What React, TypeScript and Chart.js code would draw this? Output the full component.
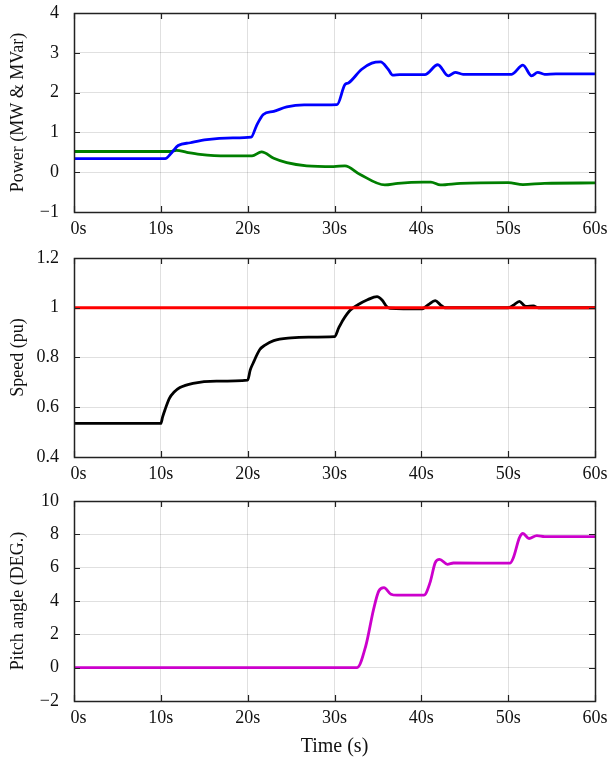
import React, { useEffect, useRef } from "react";
import { Chart, registerables } from "chart.js";

Chart.register(...registerables);

// ---- Data ----
const xTicks = [0, 10, 20, 30, 40, 50, 60];

// Active power (MW) - blue
const pTime = [0, 10.5, 11.25, 12, 13.4, 15.3, 18.3, 20.4, 21.0, 21.8, 23, 24.5, 26.5, 30.3, 31.2, 31.6, 33.1, 34.3, 35.3, 36.2, 36.7, 37.5, 40.4, 41.9, 43.1, 43.9, 44.8, 50.4, 51.7, 52.7, 53.4, 54.2, 55.5, 60];
const pValues = [0.34, 0.34, 0.49, 0.67, 0.74, 0.82, 0.86, 0.88, 1.16, 1.45, 1.53, 1.64, 1.69, 1.7, 2.2, 2.24, 2.58, 2.74, 2.77, 2.58, 2.44, 2.45, 2.45, 2.7, 2.42, 2.51, 2.46, 2.46, 2.69, 2.42, 2.51, 2.46, 2.47, 2.47];

// Reactive power (MVar) - green
const qTime = [0, 11.1, 11.8, 13, 14.5, 17.6, 20.5, 21.6, 23, 24.5, 26.8, 29.9, 31.2, 32.9, 35.8, 37.3, 40.2, 41.1, 42.2, 44.5, 50, 51.7, 54.2, 60];
const qValues = [0.52, 0.52, 0.55, 0.5, 0.45, 0.41, 0.41, 0.51, 0.35, 0.24, 0.16, 0.14, 0.16, -0.05, -0.32, -0.28, -0.25, -0.25, -0.32, -0.28, -0.26, -0.31, -0.28, -0.27];

// Rotor speed (pu) - black, reference - red
const speedTime = [0, 10, 10.2, 10.5, 11, 11.5, 12.2, 13.7, 16.4, 20, 20.3, 20.65, 21.4, 22, 23, 25, 27, 30, 30.5, 31, 31.8, 32.7, 33.8, 34.9, 35.5, 36, 36.4, 40.1, 40.8, 41.6, 42.2, 42.7, 50, 50.6, 51.3, 51.8, 52.1, 52.9, 53.5, 60];
const speedValues = [0.535, 0.535, 0.56, 0.592, 0.637, 0.66, 0.679, 0.696, 0.705, 0.709, 0.75, 0.779, 0.832, 0.85, 0.868, 0.879, 0.882, 0.884, 0.92, 0.952, 0.99, 1.012, 1.032, 1.045, 1.03, 1.005, 0.998, 0.996, 1.012, 1.029, 1.012, 1.0, 1.0, 1.01, 1.026, 1.01, 1.005, 1.007, 1.0, 1.0];
const refTime = [0, 60];
const refValues = [1.0, 1.0];

// Pitch angle (deg) - magenta
const pitchTime = [0, 32.6, 33.6, 34.5, 35.1, 35.7, 36.5, 37.2, 40.3, 41.0, 41.6, 42.1, 43.0, 43.7, 50.2, 50.6, 51.3, 51.7, 52.4, 53.3, 54.2, 60];
const pitchValues = [0, 0, 1.3, 3.5, 4.6, 4.8, 4.41, 4.35, 4.35, 5.1, 6.3, 6.5, 6.2, 6.28, 6.27, 6.6, 7.8, 8.05, 7.75, 7.92, 7.86, 7.86];

// ---- Helpers ----
const FONT = "'Liberation Serif', 'Times New Roman', serif";

const toPoints = (xs: number[], ys: number[]) => xs.map((x, i) => ({ x, y: ys[i] }));

const fmt = (v: number) => {
  const r = Math.round(v * 10) / 10;
  return String(r).replace("-", "\u2212");
};

const framePlugin = {
  id: "frame",
  afterDatasetsDraw(chart: any) {
    const { ctx, chartArea } = chart;
    const { left, right, top, bottom } = chartArea;
    const xs = chart.scales.x;
    const ys = chart.scales.y;
    ctx.save();
    ctx.strokeStyle = "#222";
    ctx.lineWidth = 1.2;
    ctx.beginPath();
    ys.ticks.forEach((t: any) => {
      const y = Math.round(ys.getPixelForValue(t.value)) + 0.5;
      ctx.moveTo(left, y);
      ctx.lineTo(left + 6, y);
      ctx.moveTo(right, y);
      ctx.lineTo(right - 6, y);
    });
    xs.ticks.forEach((t: any) => {
      const x = Math.round(xs.getPixelForValue(t.value)) + 0.5;
      ctx.moveTo(x, bottom);
      ctx.lineTo(x, bottom - 6);
      ctx.moveTo(x, top);
      ctx.lineTo(x, top + 6);
    });
    ctx.stroke();
    ctx.lineWidth = 1.5;
    ctx.strokeRect(Math.round(left) + 0.5, Math.round(top) + 0.5, Math.round(right - left), Math.round(bottom - top));
    ctx.restore();
  },
};

type PanelDef = {
  datasets: any[];
  yMin: number;
  yMax: number;
  yStep: number;
  yTitle: string;
  xTitle?: string;
  xHeight: number;
};

const makeConfig = (d: PanelDef): any => ({
  type: "line",
  data: { datasets: d.datasets },
  plugins: [framePlugin],
  options: {
    animation: false,
    responsive: false,
    maintainAspectRatio: false,
    devicePixelRatio: 1,
    layout: { padding: { top: 13, right: 15, left: 0, bottom: 0 } },
    plugins: { legend: { display: false }, tooltip: { enabled: false } },
    elements: { point: { radius: 0 }, line: { borderWidth: 2.8, cubicInterpolationMode: "monotone" } },
    scales: {
      x: {
        type: "linear",
        min: 0,
        max: 60,
        afterBuildTicks: (s: any) => {
          s.ticks = xTicks.map((v) => ({ value: v }));
        },
        afterFit: (s: any) => {
          s.height = d.xHeight;
          s.paddingLeft = 0;
          s.paddingRight = 0;
        },
        grid: { color: "rgba(0,0,0,0.12)", drawTicks: false },
        border: { display: false },
        ticks: {
          padding: 6,
          color: "#111",
          maxRotation: 0,
          font: { family: FONT, size: 18 },
          callback: (v: number) => (v === 0 ? "\u2002" + `${v}s` : `${v}s`),
        },
        title: d.xTitle
          ? { display: true, text: d.xTitle, color: "#111", font: { family: FONT, size: 20 }, padding: { top: 0, bottom: 1 } }
          : { display: false },
      },
      y: {
        type: "linear",
        min: d.yMin,
        max: d.yMax,
        ticks: {
          stepSize: d.yStep,
          padding: 15,
          color: "#111",
          font: { family: FONT, size: 18 },
          callback: (v: number) => fmt(v),
        },
        afterFit: (s: any) => {
          s.width = 74;
          s.paddingTop = 0;
          s.paddingBottom = 0;
        },
        grid: { color: "rgba(0,0,0,0.12)", drawTicks: false },
        border: { display: false },
        title: { display: true, text: d.yTitle, color: "#111", font: { family: FONT, size: 18 }, padding: { top: 7, bottom: 0 } },
      },
    },
  },
});

const line = (xs: number[], ys: number[], color: string) => ({
  data: toPoints(xs, ys),
  borderColor: color,
  backgroundColor: color,
  fill: false,
});

const panels: { top: number; height: number; def: PanelDef }[] = [
  {
    top: 0,
    height: 243,
    def: {
      datasets: [line(pTime, pValues, "#0000ff"), line(qTime, qValues, "#007f00")],
      yMin: -1,
      yMax: 4,
      yStep: 1,
      yTitle: "Power (MW & MVar)",
      xHeight: 31,
    },
  },
  {
    top: 245,
    height: 243,
    def: {
      datasets: [line(refTime, refValues, "#ff0000"), line(speedTime, speedValues, "#000000")],
      yMin: 0.4,
      yMax: 1.2,
      yStep: 0.2,
      yTitle: "Speed (pu)",
      xHeight: 31,
    },
  },
  {
    top: 488,
    height: 272,
    def: {
      datasets: [line(pitchTime, pitchValues, "#cc00cc")],
      yMin: -2,
      yMax: 10,
      yStep: 2,
      yTitle: "Pitch angle (DEG.)",
      xTitle: "Time (s)",
      xHeight: 59,
    },
  },
];

function Panel({ top, height, def }: { top: number; height: number; def: PanelDef }) {
  const ref = useRef<HTMLCanvasElement | null>(null);
  useEffect(() => {
    if (!ref.current) return;
    const chart = new Chart(ref.current, makeConfig(def));
    return () => chart.destroy();
  }, []);
  return (
    <canvas
      ref={ref}
      width={610}
      height={height}
      style={{ position: "absolute", left: 0, top, width: 610, height }}
    />
  );
}

export default function App() {
  return (
    <div style={{ position: "absolute", left: 0, top: 0, width: 610, height: 760, background: "#fff" }}>
      {panels.map((p, i) => (
        <Panel key={i} top={p.top} height={p.height} def={p.def} />
      ))}
    </div>
  );
}
